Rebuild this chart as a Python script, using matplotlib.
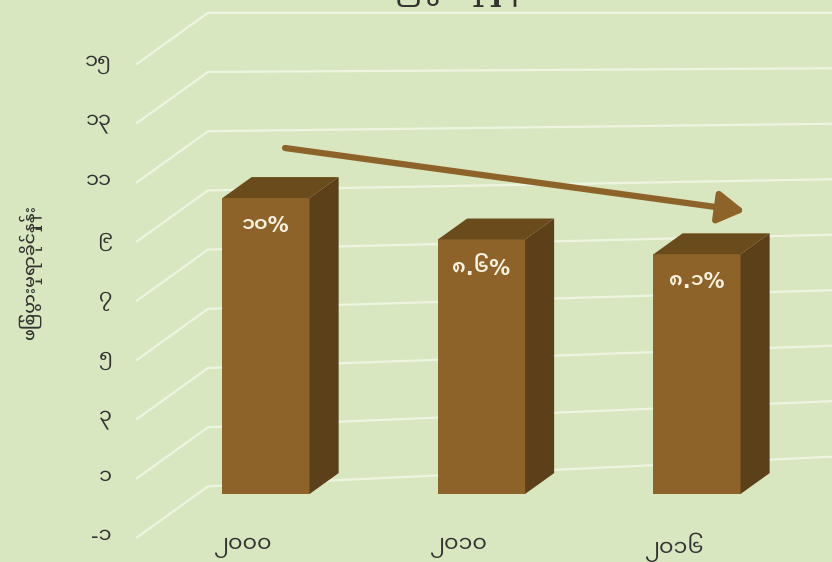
import matplotlib
matplotlib.use('Agg')
import matplotlib.pyplot as plt
import matplotlib.font_manager as fm
from matplotlib.ft2font import FT2Font
from matplotlib.patches import Polygon

# ---------------- data ----------------
years = ['၂၀၀၀', '၂၀၁၀', '၂၀၁၆']
values = [10.0, 8.6, 8.1]
value_labels = ['၁၀%', '၈.၆%', '၈.၁%']
y_ticks = [-1, 1, 3, 5, 7, 9, 11, 13, 15]
y_tick_labels = ['-၁', '၁', '၃', '၅', '၇', '၉', '၁၁', '၁၃', '၁၅']
y_label = 'ဖြစ်ပွားမှုရာခိုင်နှုန်း'
title = 'ဖြစ်ပွားမှုနှုန်း'

# ---------------- font (Myanmar capable) ----------------
def myanmar_family():
    names = {}
    for path in fm.findSystemFonts():
        if 'yanmar' not in path and 'Khyay' not in path:
            continue
        try:
            cm = FT2Font(path).get_charmap()
            if 0x1041 in cm and 0x1015 in cm:
                fm.fontManager.addfont(path)
                names[fm.FontProperties(fname=path).get_name()] = path
        except Exception:
            pass
    for pref in ['Noto Sans Myanmar UI', 'Noto Sans Myanmar', 'Myanmar Sans Pro']:
        if pref in names:
            return pref
    return next(iter(names), None)

fam = myanmar_family()
families = ([fam] if fam else []) + ['DejaVu Sans']
plt.rcParams['font.family'] = families

# ---------------- colours ----------------
BG = '#D9E7C0'
GRID = '#EEF4E2'
FRONT = '#8E6329'
TOP = '#6A4B1C'
SIDE = '#5B4019'
TXT = '#333333'
LBL = '#F8F1DF'

# ---------------- layout (pixels) ----------------
W, H = 832, 562
X0, PX_X = 266.0, 215.5   # first bar centre / px per category
Y0, PX_Y = 494.0, 29.6    # value 0 (bar front plane) / px per unit
DX, DY = 71.0 / PX_X, 51.0 / PX_Y   # full depth offset in data units
D_BF, D_BB = 0.27, 0.68             # bar front / back depth

def P(x, v, d):
    return x + (d - D_BF) * DX, v + (d - D_BF) * DY

fig = plt.figure(figsize=(W / 100, H / 100), dpi=100, facecolor=BG)
ax = fig.add_axes([0, 0, 1, 1])
ax.set_xlim((0 - X0) / PX_X, (W - X0) / PX_X)
ax.set_ylim((Y0 - H) / PX_Y, Y0 / PX_Y)
ax.axis('off')
ax.set_facecolor('none')

# ---------------- walls / gridlines ----------------
x_wall = (137 - X0) / PX_X + D_BF * DX
x_far = (845 - X0) / PX_X - (1 - D_BF) * DX
vmax = max(y_ticks)
for v in y_ticks:
    a = P(x_wall, v, 0)
    b = P(x_wall, v, 1)
    vr = vmax - (vmax - v) * 0.936
    c = P(x_far, vr, 1)
    ax.plot([a[0], b[0], c[0]], [a[1], b[1], c[1]], color=GRID, lw=1.6,
            solid_joinstyle='round', zorder=1)

# ---------------- bars ----------------
BW = 0.404
xs = list(range(len(values)))
ax.bar(xs, values, width=BW, bottom=0, color=FRONT, zorder=3)
for x, v in zip(xs, values):
    top = [P(x - BW / 2, v, D_BF), P(x + BW / 2, v, D_BF),
           P(x + BW / 2, v, D_BB), P(x - BW / 2, v, D_BB)]
    side = [P(x + BW / 2, 0, D_BF), P(x + BW / 2, v, D_BF),
            P(x + BW / 2, v, D_BB), P(x + BW / 2, 0, D_BB)]
    ax.add_patch(Polygon(top, closed=True, facecolor=TOP, edgecolor='none', zorder=3))
    ax.add_patch(Polygon(side, closed=True, facecolor=SIDE, edgecolor='none', zorder=3))

# value labels
for x, v, s in zip(xs, values, value_labels):
    ax.text(x, v - 0.95, s, ha='center', va='center', color=LBL,
            fontsize=15, fontweight='semibold', zorder=5)

# category labels
for x, s in zip(xs, years):
    px, py = P(x - 0.02, -1.35, 0)
    ax.text(px, py, s, ha='center', va='center', color=TXT, fontsize=16, zorder=5)

# value axis labels
x_lab = (112 - X0) / PX_X + D_BF * DX
for v, s in zip(y_ticks, y_tick_labels):
    px, py = P(x_lab, v, 0)
    ax.text(px, py, s, ha='right', va='center', color=TXT, fontsize=15, zorder=5)

# axis title
fig.text(30 / W, 1 - 272 / H, y_label, rotation=90, ha='center', va='center',
         color=TXT, fontsize=12.5, fontweight='medium')

# chart title (cut off at top as in reference)
fig.text(454 / W, 1 + 13 / H, title, ha='center', va='center', color=TXT, fontsize=22)

# trend arrow
ax.annotate('', xy=(745 / W, 1 - 211 / H), xycoords='figure fraction',
            xytext=(285 / W, 1 - 148 / H), textcoords='figure fraction',
            arrowprops=dict(arrowstyle='-|>,head_length=1.0,head_width=0.6',
                            lw=4.5, color=FRONT, mutation_scale=16,
                            shrinkA=0, shrinkB=0),
            zorder=6)

fig.savefig('out.png', dpi=100, facecolor=BG)
